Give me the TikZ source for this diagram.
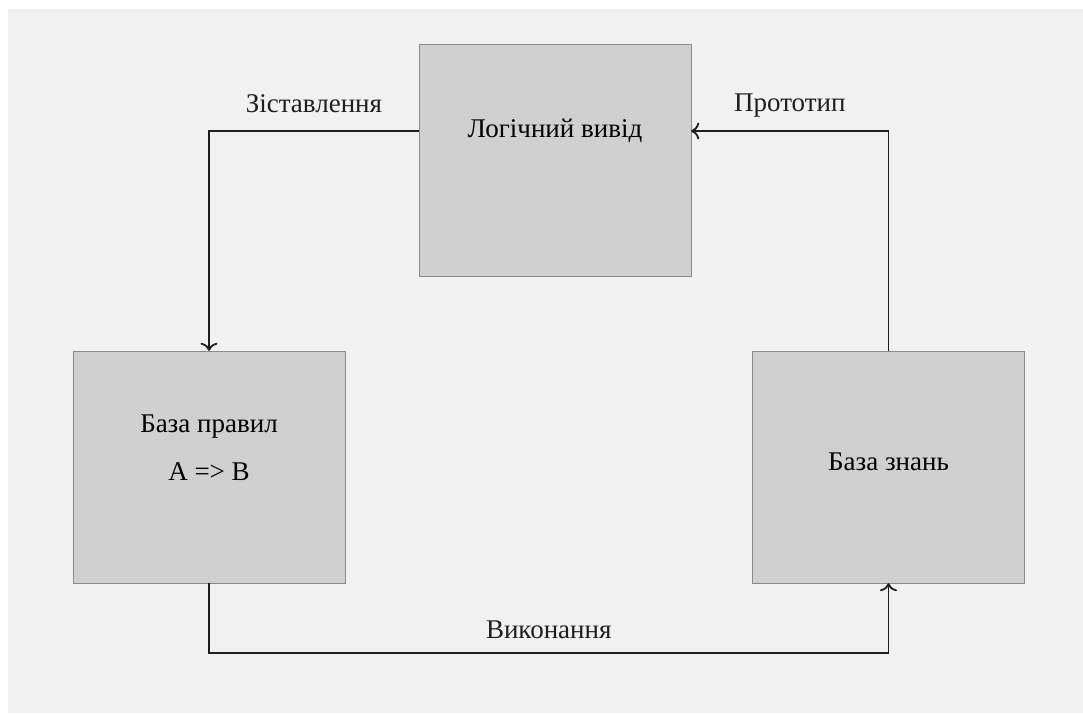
\documentclass[tikz,border=0pt]{standalone}
\usepackage{fontspec}
\setmainfont{Liberation Serif}
\usepackage{tikz}
\usetikzlibrary{arrows.meta}
\definecolor{paneGrey}{HTML}{F1F1F1}
\definecolor{blockGrey}{HTML}{D0D0D0}
\definecolor{edgeGrey}{HTML}{8A8A8A}
\definecolor{lineDark}{HTML}{1E1E1E}

\begin{document}
\begin{tikzpicture} [
    x=1pt, y=-1pt,
    block/.style={rectangle,draw=edgeGrey,fill=blockGrey,thin,inner sep=0pt,minimum width=272pt, minimum height=232pt},
    caption/.style={inner sep=0pt, font=\fontsize{27}{31}\selectfont},
    arrow/.style={line width=1.8pt, -{To[length=8pt,width=17pt]}, color=lineDark}
]
    % page and background
    \useasboundingbox (0,0) rectangle (1083,713);
    \fill[paneGrey] (8,9) rectangle (1083,713);

    \node[block] (infer) at (555, 160) {};
    \node[block] (rules) at (209, 467) {};
    \node[block] (facts) at (888.5, 467) {};
    \node[caption] (inferText) at (555, 131) {Логічний вивід};
    \node[caption] (rulesText) at (209, 427) {База правил};
    \node[caption] (ruleText) at (209, 472) {A => B};
    \node[caption] (factsText) at (888.5, 462) {База знань};

    \draw [arrow] ([yshift=29pt]infer.west) -| node[caption, pos=0.25, anchor=base, yshift=19pt] (matchLabel) {Зіставлення} (rules.north);
    \draw [arrow] (facts.north) |- node[caption, pos=0.75, anchor=base, yshift=20pt] (protoLabel) {Прототип} ([yshift=29pt]infer.east);
    \draw [arrow] (rules.south) -- ++(0, 70) -| node[caption, pos=0.25, anchor=base, yshift=15pt] (runLabel) {Виконання} (facts.south);
\end{tikzpicture}
\end{document}
